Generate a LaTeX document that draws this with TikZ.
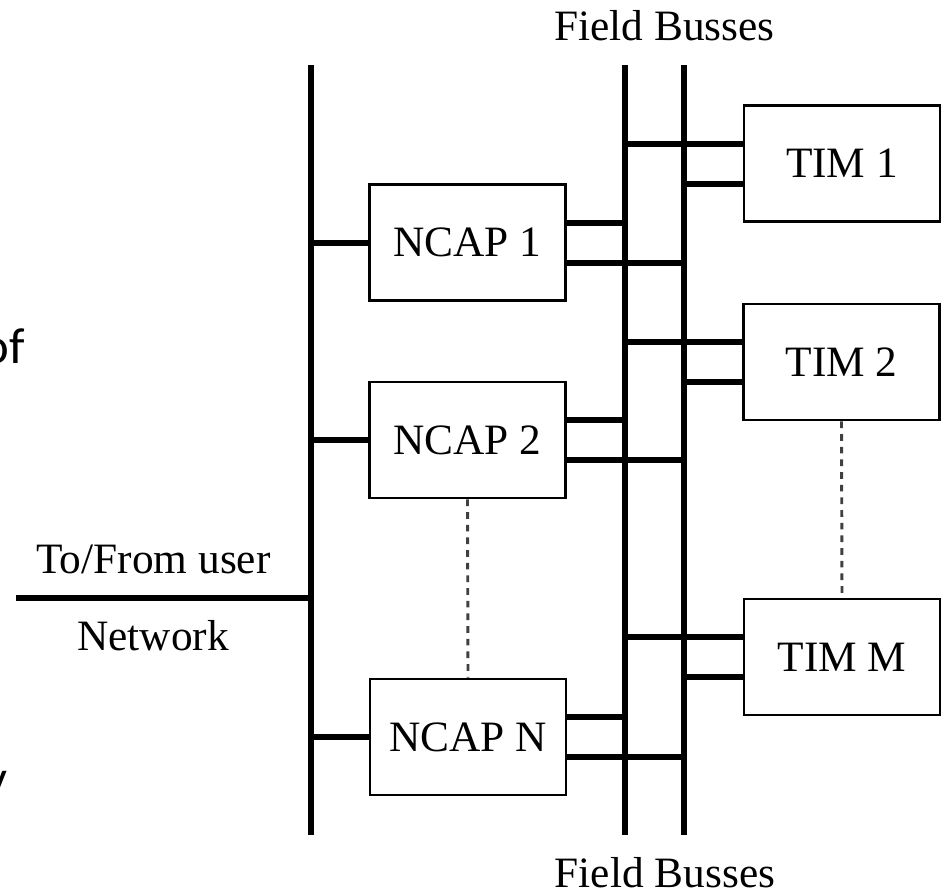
\documentclass[tikz,border=0pt]{standalone}
\usepackage{fontspec}
\setmainfont{Liberation Serif}
\newfontfamily\sidefont{Carlito}
\usetikzlibrary{calc}

\begin{document}
\begin{tikzpicture}[x=0.75pt,y=-0.75pt,
  box/.style={draw, line width=2.2pt, fill=white, minimum width=147pt,
              minimum height=87pt, inner sep=0pt,
              font=\fontsize{32.5}{39}\selectfont},
  bus/.style={line width=4.5pt},
  conn/.style={line width=4.5pt},
  dotline/.style={line width=2.2pt, dash pattern=on 5pt off 4.5pt, black!75},
  lbl/.style={font=\fontsize{32.5}{39}\selectfont, inner sep=0pt},
  side/.style={font=\sidefont\fontsize{38}{45}\selectfont, inner sep=0pt},
]
\clip (0,0) rectangle (944,895);
\fill[white] (0,0) rectangle (944,895);

% bus end points
\coordinate (mtop) at (311,65);  \coordinate (mbot) at (311,835);
\coordinate (atop) at (625,65);  \coordinate (abot) at (625,835);
\coordinate (btop) at (684,65);  \coordinate (bbot) at (684,835);

% user network bus and the two field busses
\draw[bus] (mtop) -- (mbot);
\draw[bus] (atop) -- (abot);
\draw[bus] (btop) -- (bbot);

% modules
\node[box] (ncap1) at (467.5,242.5) {NCAP 1};
\node[box] (ncap2) at (467.5,440)   {NCAP 2};
\node[box] (ncapn) at (468,737)     {NCAP N};
\node[box] (tim1)  at (842,163.5)   {TIM 1};
\node[box] (tim2)  at (841.5,362)   {TIM 2};
\node[box] (timm)  at (842,657)     {TIM M};

% NCAPs to the user network bus
\foreach \n in {ncap1,ncap2,ncapn}{
  \draw[conn] (\n.west) -- (\n.west -| mtop);
}

% NCAPs to the field busses
\foreach \n in {ncap1,ncap2,ncapn}{
  \coordinate (\n-up) at ($(\n.east)+(0,-20)$);
  \coordinate (\n-dn) at ($(\n.east)+(0,20)$);
  \draw[conn] (\n-up) -- (\n-up -| atop);
  \draw[conn] (\n-dn) -- (\n-dn -| btop);
}

% TIMs to the field busses
\foreach \t in {tim1,tim2,timm}{
  \coordinate (\t-up) at ($(\t.west)+(0,-20)$);
  \coordinate (\t-dn) at ($(\t.west)+(0,20)$);
  \draw[conn] (\t-up) -- (\t-up -| atop);
  \draw[conn] (\t-dn) -- (\t-dn -| btop);
}

% omitted modules
\draw[dotline] (ncap2.south) -- (ncapn.north);
\draw[dotline] (tim2.south) -- (timm.north);

% user network link
\coordinate (netend) at (16,598);
\draw[conn] (netend) -- (netend -| mtop);

% labels
\node[lbl, anchor=base] (fbtop)  at (664.5,41) {Field Busses};
\node[lbl, anchor=base] (fbbot)  at (665,887)  {Field Busses};
\node[lbl, anchor=base] (tofrom) at (153.5,573) {To/From user};
\node[lbl, anchor=base] (netw)   at (153,650)  {Network};

% text running in from the left edge
\node[side, anchor=base east] (frag1) at (25,363) {of};
\node[side, anchor=base east] (frag2) at (8,795)  {y};
\end{tikzpicture}
\end{document}
